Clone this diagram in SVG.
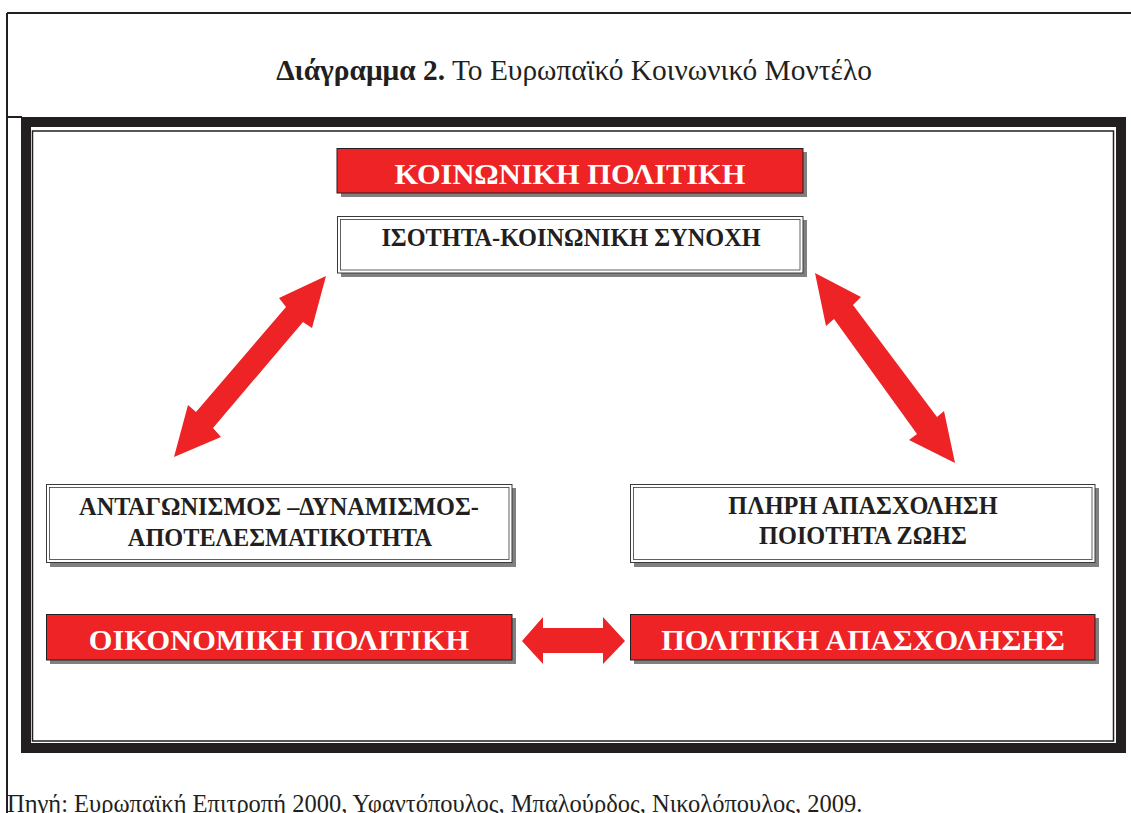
<svg xmlns="http://www.w3.org/2000/svg" width="1131" height="813" viewBox="0 0 1131 813">
  <defs>
    <style>
      .page { fill: none; stroke: #231f20; stroke-width: 2; }
      .band { fill: none; stroke: #231f20; stroke-width: 10; }
      .inner { fill: none; stroke: #231f20; stroke-width: 1.5; }
      .shadow { fill: #808080; }
      .red { fill: #ee2326; stroke: #231f20; stroke-width: 1; }
      .box { fill: #ffffff; stroke: #3a3a3a; stroke-width: 1; }
      .box-in { fill: none; stroke: #3a3a3a; stroke-width: 0.8; }
      .arrow { fill: #ee2326; }
      .serif { font-family: "Liberation Serif", "DejaVu Serif", serif; }
      .head { font-size: 30.4px; font-weight: bold; fill: #ffffff; text-anchor: middle; }
      .label { font-size: 24.3px; font-weight: bold; fill: #231f20; text-anchor: middle; }
      .title { font-size: 29.4px; fill: #231f20; text-anchor: middle; }
      .note { font-size: 24.5px; fill: #231f20; }
    </style>
  </defs>

  <!-- page frame and title -->
  <g id="page">
    <path class="page" d="M7 13 H1131 M7 13 V813 M7 117 H22"/>
    <text class="serif title" x="574" y="80"><tspan font-weight="bold">Διάγραμμα 2.</tspan> Το Ευρωπαϊκό Κοινωνικό Μοντέλο</text>
  </g>

  <!-- heavy border around the model -->
  <g id="frame">
    <rect class="band" x="26" y="122" width="1095" height="626"/>
    <rect class="inner" x="32.5" y="131" width="1081" height="610"/>
  </g>

  <!-- connectors -->
  <g id="connectors">
    <polygon class="arrow" points="326,276 312,328 303,322 213,428 221,437 174,457 188,405 196,412 286,307 279,298"/>
    <polygon class="arrow" points="815,273 861,297 853,305 937,417 944,411 955,463 909,440 917,434 834,319 826,326"/>
    <polygon class="arrow" points="522,641 543,617 543,628 603,628 603,617 625,641 603,664 603,653 543,653 543,664"/>
  </g>

  <g id="social-policy">
    <rect class="shadow" x="341" y="152" width="466" height="45"/>
    <rect class="red" x="337" y="148.5" width="466" height="44.5"/>
    <text class="serif head" x="570" y="184">ΚΟΙΝΩΝΙΚΗ ΠΟΛΙΤΙΚΗ</text>
  </g>

  <g id="equality">
    <rect class="shadow" x="341" y="220" width="466" height="57"/>
    <rect class="box" x="337.5" y="216.5" width="465.5" height="56.5"/>
    <rect class="box-in" x="340.5" y="219.5" width="459.5" height="50.5"/>
    <text class="serif label" x="571" y="246">ΙΣΟΤΗΤΑ-ΚΟΙΝΩΝΙΚΗ ΣΥΝΟΧΗ</text>
  </g>

  <g id="competitiveness">
    <rect class="shadow" x="50" y="488" width="466" height="79"/>
    <rect class="box" x="46.5" y="484.5" width="465.5" height="78"/>
    <rect class="box-in" x="49.5" y="487.5" width="459.5" height="72"/>
    <text class="serif label" x="279" y="515">ΑΝΤΑΓΩΝΙΣΜΟΣ –ΔΥΝΑΜΙΣΜΟΣ-</text>
    <text class="serif label" x="280" y="546">ΑΠΟΤΕΛΕΣΜΑΤΙΚΟΤΗΤΑ</text>
  </g>

  <g id="full-employment">
    <rect class="shadow" x="634" y="488" width="465" height="79"/>
    <rect class="box" x="630.5" y="484.5" width="464.5" height="78"/>
    <rect class="box-in" x="633.5" y="487.5" width="458.5" height="72"/>
    <text class="serif label" x="863" y="514">ΠΛΗΡΗ ΑΠΑΣΧΟΛΗΣΗ</text>
    <text class="serif label" x="863" y="544">ΠΟΙΟΤΗΤΑ ΖΩΗΣ</text>
  </g>

  <g id="economic-policy">
    <rect class="shadow" x="50" y="618" width="466" height="46"/>
    <rect class="red" x="46.5" y="614.5" width="465.5" height="45.5"/>
    <text class="serif head" x="279" y="650">ΟΙΚΟΝΟΜΙΚΗ ΠΟΛΙΤΙΚΗ</text>
  </g>

  <g id="employment-policy">
    <rect class="shadow" x="634" y="618" width="465" height="46"/>
    <rect class="red" x="630.5" y="614.5" width="464.5" height="45.5"/>
    <text class="serif head" x="863" y="650">ΠΟΛΙΤΙΚΗ ΑΠΑΣΧΟΛΗΣΗΣ</text>
  </g>

  <g id="source">
    <text class="serif note" x="7" y="812">Πηγή: Ευρωπαϊκή Επιτροπή 2000, Υφαντόπουλος, Μπαλούρδος, Νικολόπουλος, 2009.</text>
  </g>
</svg>
